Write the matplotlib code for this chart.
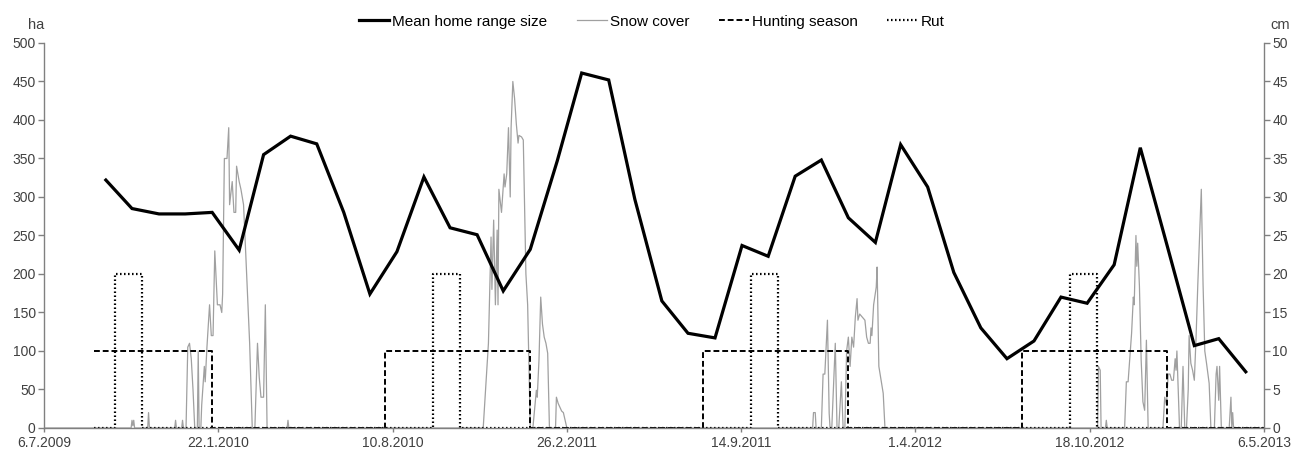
import matplotlib
matplotlib.use("Agg")
import matplotlib.pyplot as plt
import pandas as pd

plt.rcParams['font.family'] = ['Liberation Sans', 'DejaVu Sans']
plt.rcParams['font.size'] = 10

# mean home range size (ha), one value per month, mid-month, Sep 2009 - Apr 2013
home_range = [322, 285, 278, 278, 280, 231, 355, 379, 369, 280, 174, 229,
              326, 260, 251, 178, 232, 347, 461, 452, 297, 165, 123, 117,
              237, 223, 327, 348, 273, 241, 368, 313, 202, 130, 90, 113,
              170, 162, 212, 364, 236, 107, 116, 73]
hr_dates = pd.date_range('2009-09-01', periods=len(home_range), freq='MS') + pd.Timedelta(days=14)

# snow cover (cm), day number counted from 6.7.2009
snow_day = [0, 100, 101, 102, 103, 104, 119, 120, 121, 150, 151, 152, 158, 159, 160,
            163, 165, 167, 169, 171, 173, 176, 177, 178, 180, 181, 184, 185, 187, 190,
            192, 194, 196, 199, 202, 204, 205, 207, 210, 212, 213, 216, 218, 220, 221,
            224, 226, 229, 231, 236, 239, 242, 245, 247, 249, 252, 254, 256, 279, 280, 281,
            504, 510, 513, 514, 516, 518, 520, 521, 522, 525, 528, 529, 531, 533, 535,
            536, 538, 540, 542, 544, 545, 548, 550, 553, 555, 558,
            561, 565, 566, 568, 570, 572, 574, 576, 578, 580, 587, 588, 590, 592, 594,
            596, 598, 600,
            882, 883, 885, 886, 892, 894, 896, 899, 901, 902, 904, 908, 910, 912, 915,
            917, 919, 921, 923, 925, 927, 929, 931, 933, 934, 936, 942, 944, 946, 948,
            949, 950, 952, 955, 956, 958, 963, 965,
            1209, 1210, 1212, 1213, 1218, 1219, 1220, 1240, 1242, 1244, 1248, 1250, 1251,
            1253, 1254, 1255, 1257, 1259, 1261, 1263, 1265, 1267, 1284, 1286, 1288, 1290,
            1292, 1294, 1296, 1298, 1299, 1300, 1303, 1305, 1307, 1309, 1311, 1313, 1314,
            1316, 1318, 1320, 1322, 1324, 1326, 1328, 1330, 1332, 1334, 1337, 1339, 1343,
            1345, 1346, 1348, 1349, 1351, 1360, 1362, 1363, 1364, 1365, 1400]
snow_cm = [0, 0, 1, 0.3, 1, 0, 0, 2, 0, 0, 1, 0, 0, 1, 0,
           0, 10.5, 11, 9, 5, 0, 0, 10, 0, 0, 3, 8, 6, 10.5, 16,
           12, 12, 23, 16, 16, 15, 17.4, 35, 35, 39, 29, 32, 28, 28, 34,
           32, 31, 29, 24, 11, 0, 0, 11, 6.6, 4, 4, 16, 0, 0, 1, 0,
           0, 11, 24.8, 18, 27, 16, 25.7, 16, 31, 28, 33, 31.3, 33, 39, 30,
           39, 45, 42.8, 39.5, 37, 38, 37.8, 37.4, 20, 16, 0,
           0, 4.9, 4, 8.8, 17, 13.5, 11.8, 11, 9.7, 0, 0, 4, 3.2, 2.7, 2.2,
           2, 1, 0,
           0, 2, 2, 0, 0, 7, 7, 14, 1.9, 0, 0, 11, 0, 0, 6,
           0, 0, 10, 11.8, 8, 11.8, 10.5, 14.4, 16.8, 14, 14.8, 14, 11.8, 11, 11,
           13, 12, 16, 18.3, 20.9, 8, 4.5, 0,
           0, 8, 7.5, 0, 0, 1, 0, 0, 6, 6, 12.3, 17, 16,
           25, 21, 24, 18.4, 8.8, 3.4, 2.3, 11.4, 0, 0, 4, 3, 7,
           7, 6.2, 6.2, 9, 7.5, 10, 0, 0, 8, 0, 0, 5, 12,
           8.4, 7.5, 6.2, 11.8, 18.7, 25, 31, 18.7, 10, 8.4, 5.8, 0, 0,
           7, 8, 3.6, 8, 0, 0, 4, 0, 2, 0, 0]
start = pd.Timestamp('2009-07-06')
snow_dates = [start + pd.Timedelta(days=d) for d in snow_day]

# hunting season and rut (step series, cm axis)
hunt_dates = pd.to_datetime(['2009-09-01', '2010-01-15', '2010-08-01', '2011-01-15', '2011-08-01',
                             '2012-01-15', '2012-08-01', '2013-01-15', '2013-05-06'])
hunt_vals = [10, 0, 10, 0, 10, 0, 10, 0, 0]
rut_dates = pd.to_datetime(['2009-09-01', '2009-09-25', '2009-10-26', '2010-09-25', '2010-10-26',
                            '2011-09-25', '2011-10-26', '2012-09-25', '2012-10-26', '2013-05-06'])
rut_vals = [0, 20, 0, 20, 0, 20, 0, 20, 0, 0]

tick_dates = pd.date_range('2009-07-06', periods=8, freq='200D')

fig = plt.figure(figsize=(13.01, 4.53), dpi=100)
ax = fig.add_axes([0.0338, 0.0552, 0.9378, 0.8499])
ax2 = ax.twinx()

ln1, = ax.plot(hr_dates, home_range, color='black', lw=2.3, solid_joinstyle='miter', zorder=5)
ln2, = ax2.plot(snow_dates, snow_cm, color='#a0a0a0', lw=0.9)
ln3, = ax2.plot(hunt_dates, hunt_vals, color='black', lw=1.4, ls=(0, (3, 1.5)), drawstyle='steps-post')
ln4, = ax2.plot(rut_dates, rut_vals, color='black', lw=1.6, ls=(0, (0.7, 1.1)), drawstyle='steps-post')

ax.set_zorder(ax2.get_zorder() + 1)
ax.patch.set_visible(False)

ax.set_xlim(tick_dates[0], tick_dates[-1])
ax.set_ylim(0, 500)
ax2.set_ylim(0, 50)
ax.set_yticks(range(0, 501, 50))
ax2.set_yticks(range(0, 51, 5))
ax.set_xticks(tick_dates)
ax.set_xticklabels([f"{d.day}.{d.month}.{d.year}" for d in tick_dates])

for a in (ax, ax2):
    a.spines['top'].set_visible(False)
    for s in ('left', 'right', 'bottom'):
        a.spines[s].set_color('#808080')
        a.spines[s].set_linewidth(1.0)
    a.tick_params(colors='#808080', labelcolor='#404040', length=4, width=1.0, labelsize=10, pad=2)
ax.spines['right'].set_visible(False)
ax2.spines['left'].set_visible(False)
ax2.spines['bottom'].set_visible(False)
ax.tick_params(axis='x', length=3, pad=3)

fig.text(0.0215, 0.945, 'ha', fontsize=10.5, color='#404040', ha='left', va='center')
fig.text(0.9915, 0.945, 'cm', fontsize=10.5, color='#404040', ha='right', va='center')

fig.legend([ln1, ln2, ln3, ln4], ['Mean home range size', 'Snow cover', 'Hunting season', 'Rut'],
           loc='center', bbox_to_anchor=(0.501, 0.952), ncol=4, frameon=False,
           fontsize=11, handlelength=2.0, handletextpad=0.2, columnspacing=1.9,
           labelcolor='black')

fig.savefig('out.png', dpi=100)
